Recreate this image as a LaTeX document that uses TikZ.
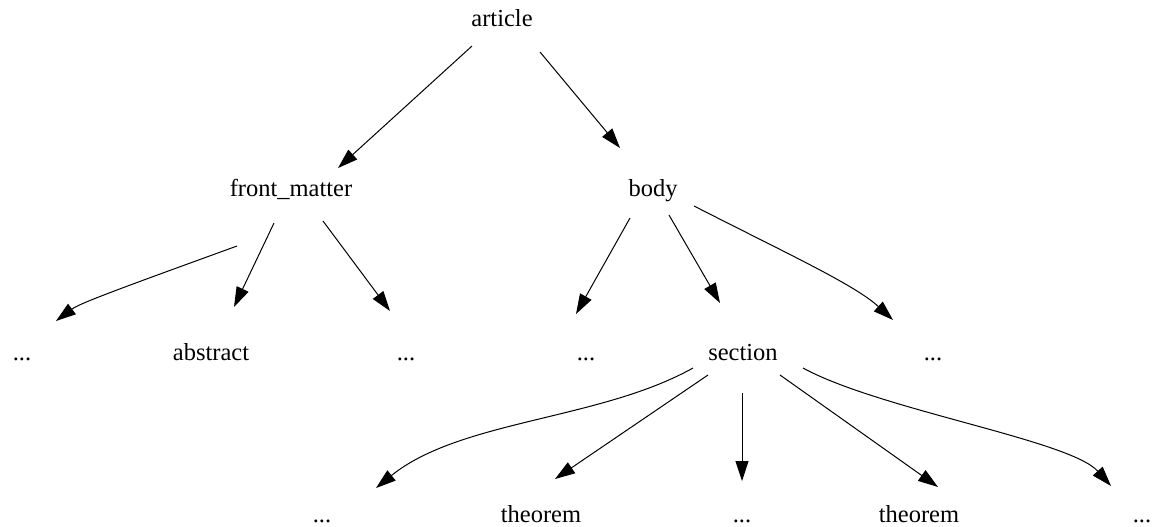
\documentclass[tikz,border=0pt]{standalone}
\usepackage{fontspec}
\setmainfont{Liberation Serif}
\usetikzlibrary{arrows.meta}
\begin{document}
\begin{tikzpicture}[x=0.5pt,y=-0.5pt,
  lbl/.style={anchor=base,inner sep=0pt,font=\fontsize{12.25pt}{14pt}\selectfont},
  edge/.style={line width=0.5pt,-{Triangle[length=10pt,width=6.5pt]}}]
\useasboundingbox (0,0) rectangle (1159,526);
\node[lbl] (art) at (502,26) {article};
\node[lbl] (fm) at (291,196) {front\_matter};
\node[lbl] (body) at (653,196) {body};
\node[lbl] (d1) at (22,360) {...};
\node[lbl] (abs) at (211,360) {abstract};
\node[lbl] (d2) at (406,360) {...};
\node[lbl] (d3) at (586,360) {...};
\node[lbl] (sec) at (743,360) {section};
\node[lbl] (d4) at (933,360) {...};
\node[lbl] (d5) at (322,522) {...};
\node[lbl] (th1) at (541,522) {theorem};
\node[lbl] (d6) at (742,522) {...};
\node[lbl] (th2) at (919,522) {theorem};
\node[lbl] (d7) at (1142,522) {...};

\draw[edge] ([shift={(-30,20)}]art.base) -- ([shift={(47,-28)}]fm.base);
\draw[edge] ([shift={(38,26)}]art.base) -- ([shift={(-33,-48)}]body.base);

\draw[edge] ([shift={(-54,50)}]fm.base) .. controls (127,286) and (80,303) .. ([shift={(34,-39)}]d1.base);
\draw[edge] ([shift={(-17,27)}]fm.base) -- ([shift={(23,-53)}]abs.base);
\draw[edge] ([shift={(32,25)}]fm.base) -- ([shift={(-16,-49)}]d2.base);

\draw[edge] ([shift={(-23,22)}]body.base) -- ([shift={(-10,-46)}]d3.base);
\draw[edge] ([shift={(16,19)}]body.base) -- ([shift={(-23,-57)}]sec.base);
\draw[edge] ([shift={(41,10)}]body.base) .. controls (790,255) and (855,285) .. ([shift={(-40,-40)}]d4.base);

\draw[edge] ([shift={(-50,8)}]sec.base) .. controls (600,420) and (460,420) .. ([shift={(54,-34)}]d5.base);
\draw[edge] ([shift={(-35,15)}]sec.base) -- ([shift={(14,-43)}]th1.base);
\draw[edge] ([shift={(-1,33)}]sec.base) -- ([shift={(0,-41)}]d6.base);
\draw[edge] ([shift={(37,15)}]sec.base) -- ([shift={(19,-35)}]th2.base);
\draw[edge] ([shift={(60,8)}]sec.base) .. controls (880,410) and (1070,440) .. ([shift={(-31,-36)}]d7.base);
\end{tikzpicture}
\end{document}
